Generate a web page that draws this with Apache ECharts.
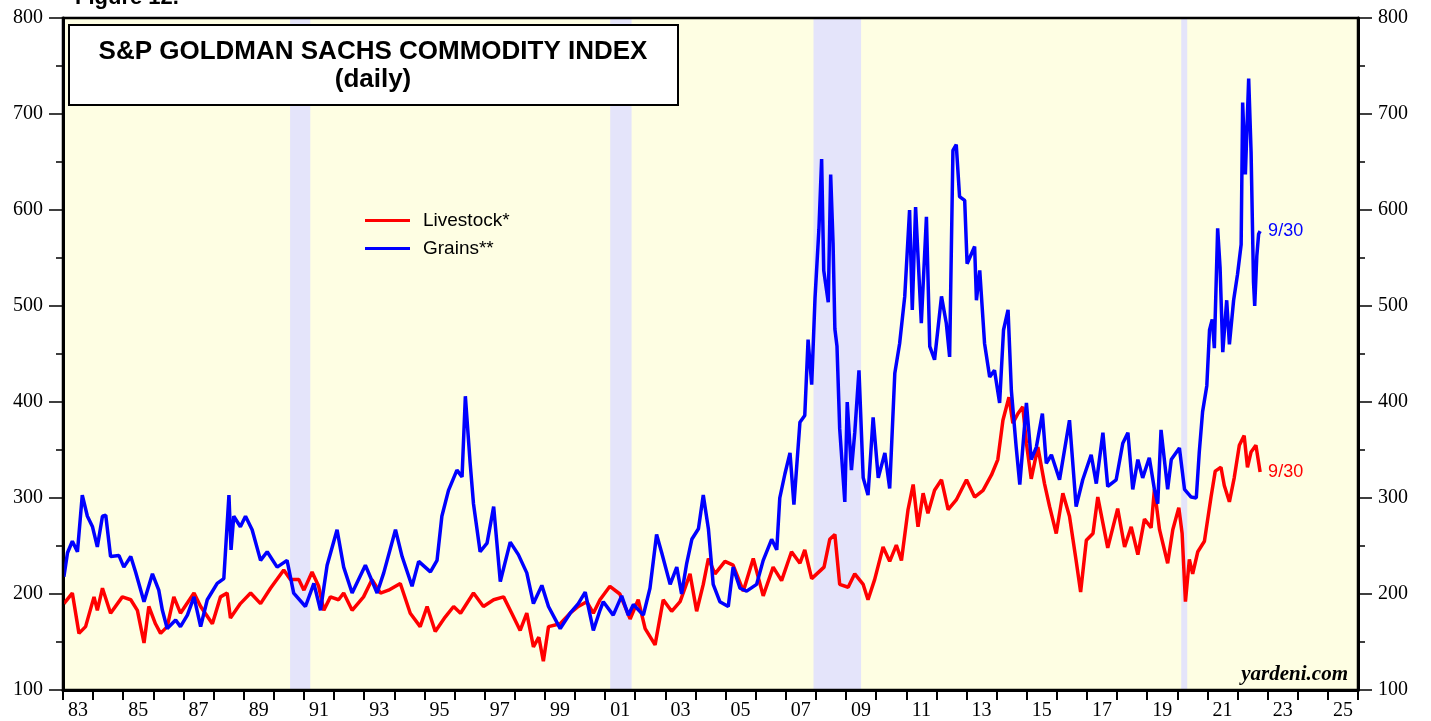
<!DOCTYPE html>
<html>
<head>
<meta charset="utf-8">
<script src="https://cdn.jsdelivr.net/npm/echarts@6/dist/echarts.min.js"></script>
<style>
  html, body { margin: 0; padding: 0; background: #fff; }
  #chart { width: 1431px; height: 721px; }
</style>
</head>
<body>
<div id="chart"></div>
<script>
'use strict';

// year ticks on the x axis, one band per year, labels on odd years
const yearCategories = [];
for (let y = 1983; y <= 2025; y++) yearCategories.push(String(y % 100).padStart(2, '0'));

const recessions = [[1990.54, 1991.21], [2001.17, 2001.88], [2007.92, 2009.5], [2020.13, 2020.33]];

const grainsYears = [
  1983.03, 1983.15, 1983.31, 1983.48, 1983.64, 1983.81, 1983.98, 1984.14, 1984.31, 1984.42,
  1984.58, 1984.86, 1985.02, 1985.25, 1985.41, 1985.69, 1985.97, 1986.18, 1986.30, 1986.46,
  1986.74, 1986.90, 1987.13, 1987.35, 1987.57, 1987.79, 1988.12, 1988.34, 1988.51, 1988.58,
  1988.67, 1988.89, 1989.06, 1989.28, 1989.56, 1989.78, 1990.11, 1990.44, 1990.66, 1991.05,
  1991.33, 1991.55, 1991.77, 1992.10, 1992.32, 1992.60, 1993.04, 1993.43, 1993.65, 1994.04,
  1994.26, 1994.59, 1994.81, 1995.20, 1995.42, 1995.58, 1995.80, 1996.08, 1996.25, 1996.36,
  1996.52, 1996.63, 1996.85, 1997.08, 1997.30, 1997.52, 1997.85, 1998.12, 1998.40, 1998.62,
  1998.90, 1999.12, 1999.51, 1999.84, 2000.11, 2000.34, 2000.61, 2000.83, 2000.94, 2001.27,
  2001.55, 2001.77, 2001.94, 2002.27, 2002.49, 2002.71, 2002.88, 2003.16, 2003.38, 2003.54,
  2003.71, 2003.88, 2004.10, 2004.26, 2004.43, 2004.59, 2004.81, 2005.09, 2005.25, 2005.48,
  2005.70, 2006.03, 2006.25, 2006.53, 2006.70, 2006.80, 2006.97, 2007.14, 2007.27, 2007.47,
  2007.63, 2007.74, 2007.86, 2007.97, 2008.10, 2008.19, 2008.26, 2008.41, 2008.49, 2008.57,
  2008.63, 2008.70, 2008.79, 2008.96, 2009.04, 2009.18, 2009.29, 2009.43, 2009.57, 2009.73,
  2009.90, 2010.07, 2010.29, 2010.45, 2010.62, 2010.78, 2010.95, 2011.11, 2011.20, 2011.31,
  2011.50, 2011.67, 2011.78, 2011.94, 2012.17, 2012.33, 2012.44, 2012.55, 2012.66, 2012.77,
  2012.94, 2013.02, 2013.27, 2013.33, 2013.44, 2013.60, 2013.77, 2013.93, 2014.10, 2014.23,
  2014.38, 2014.49, 2014.65, 2014.77, 2014.99, 2015.15, 2015.32, 2015.52, 2015.65, 2015.82,
  2016.09, 2016.42, 2016.53, 2016.64, 2016.86, 2017.14, 2017.31, 2017.53, 2017.69, 2017.97,
  2018.19, 2018.36, 2018.52, 2018.69, 2018.85, 2019.07, 2019.24, 2019.35, 2019.46, 2019.68,
  2019.80, 2020.07, 2020.24, 2020.46, 2020.63, 2020.73, 2020.84, 2020.98, 2021.07, 2021.16,
  2021.23, 2021.34, 2021.42, 2021.51, 2021.64, 2021.73, 2021.87, 2022.00, 2022.12, 2022.17,
  2022.26, 2022.37, 2022.45, 2022.53, 2022.57, 2022.64, 2022.70, 2022.75
];
const grainsValues = [
  218, 243, 255, 244, 303, 281, 270, 249, 281, 282,
  239, 240, 228, 239, 223, 192, 221, 204, 183, 164,
  173, 166, 178, 197, 166, 194, 211, 216, 303, 246,
  281, 270, 281, 267, 235, 244, 228, 235, 201, 187,
  211, 183, 230, 267, 228, 201, 230, 201, 222, 267,
  239, 208, 234, 223, 235, 281, 308, 329, 322, 406,
  336, 294, 244, 253, 291, 213, 254, 241, 222, 190,
  209, 187, 164, 180, 190, 202, 162, 183, 192, 178,
  198, 178, 189, 178, 206, 262, 243, 210, 228, 200,
  232, 257, 268, 303, 268, 210, 192, 187, 228, 206,
  203, 210, 235, 257, 246, 300, 325, 347, 293, 379,
  386, 465, 418, 508, 580, 653, 537, 504, 637, 565,
  476, 458, 372, 296, 400, 329, 368, 433, 321, 303,
  384, 321, 347, 310, 430, 461, 510, 600, 496, 603,
  482, 593, 458, 444, 510, 482, 447, 662, 668, 614,
  610, 544, 562, 506, 537, 461, 426, 433, 399, 475,
  496, 412, 353, 314, 399, 340, 353, 388, 336, 345,
  319, 381, 336, 291, 319, 345, 315, 368, 312, 319,
  357, 368, 309, 340, 321, 342, 309, 294, 371, 309,
  340, 352, 309, 301, 300, 348, 390, 417, 475, 486,
  456, 581, 540, 452, 506, 460, 506, 533, 564, 712,
  637, 737, 660, 525, 500, 552, 575, 578
];

const livestockYears = [
  1983.03, 1983.31, 1983.53, 1983.75, 1984.03, 1984.14, 1984.31, 1984.58, 1984.97, 1985.25,
  1985.47, 1985.69, 1985.85, 1986.07, 1986.24, 1986.46, 1986.68, 1986.90, 1987.35, 1987.57,
  1987.96, 1988.23, 1988.45, 1988.56, 1988.89, 1989.23, 1989.56, 1989.89, 1990.33, 1990.55,
  1990.83, 1991.00, 1991.27, 1991.49, 1991.66, 1991.88, 1992.15, 1992.32, 1992.60, 1992.98,
  1993.26, 1993.54, 1993.81, 1994.20, 1994.53, 1994.86, 1995.09, 1995.36, 1995.69, 1995.97,
  1996.20, 1996.63, 1996.96, 1997.30, 1997.63, 1997.90, 1998.18, 1998.40, 1998.62, 1998.80,
  1998.95, 1999.12, 1999.51, 1999.84, 2000.11, 2000.39, 2000.61, 2000.83, 2001.16, 2001.49,
  2001.83, 2002.10, 2002.33, 2002.66, 2002.93, 2003.21, 2003.49, 2003.82, 2004.04, 2004.26,
  2004.43, 2004.65, 2004.98, 2005.25, 2005.59, 2005.92, 2006.25, 2006.58, 2006.86, 2007.19,
  2007.47, 2007.63, 2007.86, 2008.27, 2008.46, 2008.63, 2008.79, 2009.07, 2009.29, 2009.57,
  2009.73, 2009.95, 2010.23, 2010.45, 2010.67, 2010.84, 2011.06, 2011.23, 2011.39, 2011.56,
  2011.72, 2011.94, 2012.17, 2012.39, 2012.66, 2013.00, 2013.27, 2013.55, 2013.83, 2014.04,
  2014.21, 2014.41, 2014.54, 2014.71, 2014.87, 2014.99, 2015.15, 2015.37, 2015.59, 2015.76,
  2015.98, 2016.20, 2016.42, 2016.64, 2016.79, 2016.98, 2017.20, 2017.36, 2017.69, 2018.02,
  2018.25, 2018.47, 2018.69, 2018.91, 2019.13, 2019.24, 2019.41, 2019.68, 2019.85, 2020.05,
  2020.16, 2020.27, 2020.40, 2020.51, 2020.68, 2020.90, 2021.12, 2021.26, 2021.45, 2021.56,
  2021.73, 2021.89, 2022.06, 2022.22, 2022.33, 2022.45, 2022.61, 2022.75
];
const livestockValues = [
  190, 201, 159, 166, 197, 183, 206, 180, 197, 194,
  183, 149, 187, 169, 159, 166, 197, 180, 201, 187,
  169, 197, 201, 175, 190, 201, 190, 206, 225, 215,
  215, 204, 223, 208, 183, 197, 194, 201, 183, 197,
  215, 201, 204, 211, 180, 166, 187, 161, 176, 187,
  180, 201, 187, 194, 197, 180, 162, 180, 145, 155,
  130, 166, 169, 180, 187, 192, 180, 194, 208, 200,
  174, 194, 164, 147, 194, 182, 192, 221, 182, 210,
  237, 221, 234, 230, 203, 237, 198, 228, 214, 244,
  232, 246, 216, 228, 257, 262, 210, 207, 221, 210,
  194, 215, 249, 234, 251, 235, 288, 314, 270, 305,
  284, 308, 319, 288, 298, 319, 301, 308, 324, 340,
  381, 405, 378, 388, 395, 357, 320, 353, 315, 291,
  263, 305, 281, 235, 202, 256, 263, 301, 248, 289,
  249, 270, 241, 278, 269, 309, 267, 232, 267, 290,
  263, 192, 236, 221, 244, 255, 301, 328, 332, 313,
  296, 321, 355, 365, 332, 348, 355, 327
];

function pairs(xs, ys) {
  return xs.map((x, i) => [x, ys[i]]);
}

const chart = echarts.init(document.getElementById('chart'));
const serif = 'Liberation Serif';
const sans = 'Liberation Sans';

const yAxisBase = {
  type: 'value',
  min: 100,
  max: 800,
  interval: 100,
  splitLine: { show: false },
  axisLine: { show: true, lineStyle: { color: '#000', width: 3 } },
  axisTick: { show: true, inside: false, length: 14, lineStyle: { color: '#000', width: 1.5 } },
  minorTick: { show: true, splitNumber: 2, length: 7, lineStyle: { color: '#000', width: 1.5 } },
  axisLabel: { color: '#000', fontFamily: serif, fontSize: 20, margin: 20 }
};

chart.setOption({
  animation: false,
  backgroundColor: '#fff',
  grid: {
    left: 63, right: 73, top: 18, bottom: 31,
    show: true,
    backgroundColor: '#FEFEE3',
    borderColor: '#000',
    borderWidth: 2,
    containLabel: false,
    outerBoundsMode: 'none'
  },
  legend: {
    left: 360,
    top: 206,
    orient: 'vertical',
    icon: 'rect',
    itemWidth: 45,
    itemHeight: 3,
    itemGap: 9,
    data: ['Livestock*', 'Grains**'],
    textStyle: { color: '#000', fontFamily: sans, fontSize: 19, padding: [0, 0, 0, 8] }
  },
  xAxis: [{
    type: 'category',
    data: yearCategories,
    boundaryGap: true,
    position: 'bottom',
    axisLine: { show: true, lineStyle: { color: '#000', width: 3 } },
    axisTick: { show: true, interval: 0, length: 10, lineStyle: { color: '#000', width: 2 } },
    axisLabel: { interval: 1, color: '#000', fontFamily: serif, fontSize: 20, margin: 11 },
    splitLine: { show: false }
  }, {
    type: 'value',
    min: 1983,
    max: 2026,
    show: false,
    splitLine: { show: false }
  }],
  yAxis: [
    Object.assign({ position: 'left' }, yAxisBase),
    Object.assign({ position: 'right' }, yAxisBase)
  ],
  series: [{
    name: 'recessions',
    type: 'line',
    xAxisIndex: 1,
    data: [],
    silent: true,
    z: 1,
    markArea: {
      silent: true,
      itemStyle: { color: '#E4E4FA' },
      data: recessions.map(r => [{ xAxis: r[0] }, { xAxis: r[1] }])
    }
  }, {
    name: 'Livestock*',
    type: 'line',
    xAxisIndex: 1,
    data: pairs(livestockYears, livestockValues),
    showSymbol: false,
    color: '#FF0000',
    lineStyle: { color: '#FF0000', width: 3.5 },
    z: 3,
    endLabel: {
      show: true, formatter: '9/30', color: '#FF0000',
      fontFamily: sans, fontSize: 18, distance: 8
    }
  }, {
    name: 'Grains**',
    type: 'line',
    xAxisIndex: 1,
    data: pairs(grainsYears, grainsValues),
    showSymbol: false,
    color: '#0000FF',
    lineStyle: { color: '#0000FF', width: 3.5 },
    z: 4,
    endLabel: {
      show: true, formatter: '9/30', color: '#0000FF',
      fontFamily: sans, fontSize: 18, distance: 8
    }
  }],
  graphic: [{
    type: 'text',
    left: 75,
    top: -13,
    style: { text: 'Figure 12.', font: 'bold 22px "Liberation Sans"', fill: '#000' }
  }, {
    // plot frame redrawn on top of the shaded bands
    type: 'rect',
    shape: { x: 63, y: 18, width: 1295, height: 672 },
    style: { fill: null, stroke: '#000', lineWidth: 2.5 },
    silent: true,
    z: 20
  }, {
    type: 'rect',
    shape: { x: 69, y: 25, width: 609, height: 80 },
    style: { fill: '#fff', stroke: '#000', lineWidth: 2 },
    z: 10
  }, {
    type: 'text',
    x: 373, y: 52,
    style: {
      text: 'S&P GOLDMAN SACHS COMMODITY INDEX',
      font: 'bold 26px "Liberation Sans"', fill: '#000',
      align: 'center', verticalAlign: 'middle'
    },
    z: 11
  }, {
    type: 'text',
    x: 373, y: 80,
    style: {
      text: '(daily)',
      font: 'bold 26px "Liberation Sans"', fill: '#000',
      align: 'center', verticalAlign: 'middle'
    },
    z: 11
  }, {
    type: 'text',
    x: 1348, y: 675,
    style: {
      text: 'yardeni.com',
      font: 'italic bold 21px "Liberation Serif"', fill: '#000',
      align: 'right', verticalAlign: 'middle'
    },
    z: 11
  }]
});

window.onresize = () => {
  chart.resize();
};
</script>
</body>
</html>
